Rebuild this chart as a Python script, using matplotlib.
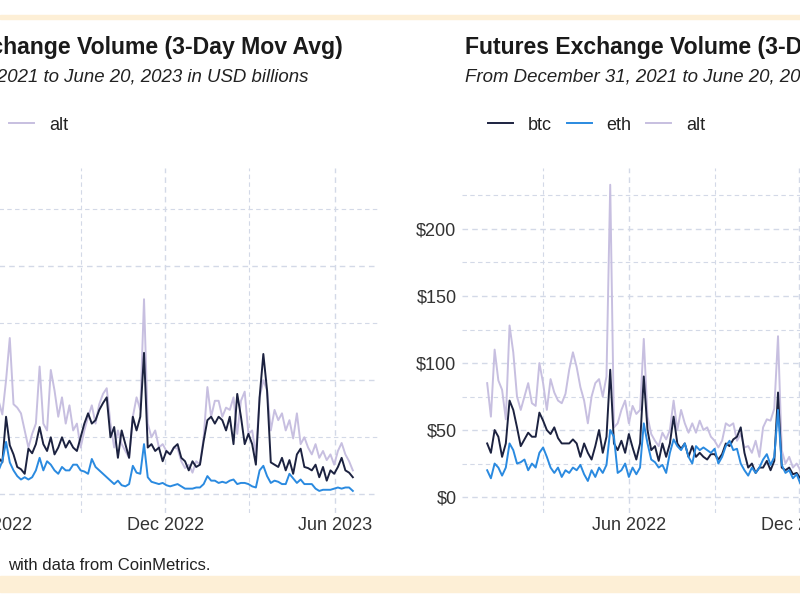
import pandas as pd
import matplotlib
matplotlib.use('Agg')
import matplotlib.pyplot as plt
import matplotlib.dates as mdates
from matplotlib.patches import Rectangle
from matplotlib.ticker import MultipleLocator, FuncFormatter

plt.rcParams['font.family'] = ['Liberation Sans', 'DejaVu Sans']

# spot volume (USD bn), read every 4 days from 2022-06-01 (earlier part is off the crop)
spot_dates = pd.date_range('2022-06-01', periods=97, freq='4D')
spot_btc = [3.5, 3.2, 2.8, 6.8, 4.3, 3.5, 2.4, 2.2, 1.8, 4.0,
            3.6, 4.4, 5.9, 4.4, 3.8, 5.0, 3.5, 4.1, 5.0, 4.1,
            4.7, 4.1, 3.8, 5.0, 6.2, 7.1, 6.2, 6.5, 7.4, 8.0,
            8.5, 5.0, 5.9, 3.2, 5.6, 4.4, 3.2, 6.8, 5.6, 6.8,
            12.4, 4.1, 4.4, 3.8, 4.1, 2.9, 3.8, 3.5, 4.1, 4.4,
            3.2, 2.9, 2.1, 2.9, 2.4, 2.6, 4.7, 6.5, 6.8, 6.2,
            6.8, 6.5, 5.6, 6.8, 4.4, 8.8, 6.8, 4.4, 5.3, 4.4,
            2.6, 8.5, 12.3, 9.1, 2.8, 2.6, 2.4, 3.2, 2.1, 3.0,
            1.8, 3.5, 4.0, 2.4, 2.3, 2.1, 2.6, 1.5, 2.4, 1.2,
            2.1, 1.8, 2.4, 3.2, 2.1, 1.9, 1.5]
spot_eth = [2.0, 2.1, 2.9, 4.6, 2.8, 2.1, 1.6, 1.3, 1.5, 1.3,
            1.5, 2.1, 3.2, 2.1, 2.9, 2.6, 2.1, 1.8, 2.4, 2.1,
            2.1, 2.6, 2.6, 2.1, 2.0, 1.8, 3.1, 2.4, 2.1, 1.8,
            1.5, 1.2, 0.9, 1.2, 0.8, 0.7, 0.9, 2.5, 1.9, 1.8,
            4.4, 1.5, 1.1, 1.0, 0.9, 1.0, 0.8, 0.7, 0.8, 0.9,
            0.7, 0.5, 0.5, 0.5, 0.6, 0.6, 0.9, 1.6, 1.2, 1.2,
            1.0, 1.1, 1.0, 1.2, 1.3, 0.9, 1.0, 1.0, 0.9, 0.7,
            0.6, 2.1, 2.5, 1.6, 1.0, 1.2, 1.1, 0.9, 0.9, 1.8,
            1.4, 1.0, 1.3, 0.9, 0.9, 0.9, 0.5, 0.3, 0.4, 0.4,
            0.4, 0.5, 0.6, 0.5, 0.6, 0.6, 0.3]
spot_alt = [7.5, 8.2, 7.0, 10.0, 13.7, 7.9, 7.6, 7.1, 5.6, 4.1,
            5.3, 6.2, 11.2, 6.2, 5.6, 10.9, 9.1, 6.8, 8.5, 6.2,
            7.8, 5.6, 6.2, 4.1, 5.6, 6.8, 7.8, 6.2, 7.9, 8.8,
            9.3, 6.2, 4.1, 5.6, 4.4, 3.8, 3.2, 6.8, 8.5, 7.4,
            17.1, 6.2, 5.0, 5.6, 4.1, 4.4, 3.8, 3.5, 4.1, 4.0,
            2.9, 2.3, 2.6, 1.9, 2.9, 2.6, 5.0, 9.4, 6.8, 8.2,
            8.2, 6.8, 7.6, 7.4, 8.5, 5.3, 8.2, 9.0, 5.3, 5.6,
            3.5, 8.5, 10.0, 9.1, 5.6, 7.4, 6.5, 7.1, 5.6, 6.5,
            4.9, 7.1, 4.4, 5.0, 4.1, 3.5, 4.4, 3.2, 3.8, 3.0,
            3.5, 2.6, 3.8, 4.5, 3.5, 2.9, 2.1]

# futures volume (USD bn), read every 4 days from 2021-12-31 (later part is off the crop)
fut_dates = pd.date_range('2021-12-31', periods=87, freq='4D')
fut_btc = [40, 33, 50, 45, 30, 40, 72, 65, 52, 38,
           43, 48, 45, 45, 63, 57, 50, 47, 52, 44,
           40, 40, 40, 43, 40, 30, 40, 33, 28, 38,
           50, 33, 45, 95, 40, 35, 42, 33, 47, 37,
           28, 40, 90, 50, 35, 38, 27, 40, 30, 40,
           60, 40, 36, 40, 30, 38, 30, 33, 30, 28,
           32, 32, 28, 32, 40, 38, 43, 45, 52, 33,
           22, 25, 18, 22, 22, 27, 20, 27, 78, 22,
           20, 22, 17, 18, 14, 15, 13]
fut_eth = [20, 14, 25, 22, 16, 22, 40, 35, 25, 26,
           28, 20, 25, 22, 33, 37, 30, 22, 18, 22,
           15, 20, 18, 22, 20, 24, 17, 12, 20, 15,
           22, 18, 24, 50, 45, 18, 20, 25, 15, 22,
           17, 22, 55, 40, 28, 26, 22, 24, 18, 33,
           43, 38, 35, 40, 30, 25, 38, 35, 37, 35,
           33, 36, 25, 30, 38, 42, 35, 36, 25, 20,
           16, 22, 18, 22, 28, 32, 24, 30, 65, 24,
           18, 20, 14, 17, 10, 13, 11]
fut_alt = [85, 60, 110, 87, 80, 58, 128, 108, 75, 65,
           75, 85, 70, 68, 100, 85, 65, 88, 78, 72,
           70, 77, 95, 108, 97, 82, 72, 55, 75, 85,
           88, 75, 90, 233, 52, 55, 65, 72, 55, 68,
           62, 65, 118, 60, 47, 42, 38, 48, 43, 50,
           72, 50, 65, 55, 48, 55, 48, 57, 50, 52,
           45, 42, 37, 42, 55, 53, 55, 42, 47, 37,
           38, 33, 42, 30, 52, 58, 57, 66, 120, 35,
           25, 30, 22, 25, 20, 22, 20]

series_names = ['btc', 'eth', 'alt']
series_colors = {'btc': '#1c2240', 'eth': '#2a8ae0', 'alt': '#c7bfe0'}
grid_color = '#d3d9e7'
x_start, x_end = pd.Timestamp('2021-12-04'), pd.Timestamp('2023-07-17')

fig = plt.figure(figsize=(8, 6), dpi=100)
W, H = 800.0, 600.0


def px(x, y):
    return x / W, 1 - y / H


def setup_panel(ax, ylim, major, minor):
    ax.set_xlim(x_start, x_end)
    ax.set_ylim(*ylim)
    ax.xaxis.set_major_locator(mdates.MonthLocator(bymonth=[6, 12]))
    ax.xaxis.set_minor_locator(mdates.MonthLocator(bymonth=[3, 9]))
    ax.xaxis.set_major_formatter(mdates.DateFormatter('%b %Y'))
    ax.yaxis.set_major_locator(MultipleLocator(major))
    ax.yaxis.set_minor_locator(MultipleLocator(minor))
    ax.yaxis.set_major_formatter(FuncFormatter(lambda v, p: '$%d' % v))
    ax.grid(which='major', color=grid_color, lw=1.0, ls=(0, (4, 3)))
    ax.grid(which='minor', color=grid_color, lw=0.8, ls=(0, (4, 3)))
    for s in ax.spines.values():
        s.set_visible(False)
    ax.tick_params(which='both', length=0, labelsize=13, colors='#333333')
    ax.tick_params(axis='x', pad=3)
    ax.tick_params(axis='y', pad=4)
    ax.set_axisbelow(True)


def draw_lines(ax, dates, data):
    lines = {}
    for name in ['alt', 'btc', 'eth']:
        lines[name], = ax.plot(dates, data[name], color=series_colors[name], lw=1.4,
                               solid_joinstyle='round')
    return [lines[n] for n in series_names]


# panel geometry in pixels of the cropped canvas
panel_w = 550
panel_top, panel_bot = 168, 512.6
left_x0 = -172
right_x0 = 462

ax1 = fig.add_axes([left_x0 / W, 1 - panel_bot / H, panel_w / W, (panel_bot - panel_top) / H])
ax2 = fig.add_axes([right_x0 / W, 1 - panel_bot / H, panel_w / W, (panel_bot - panel_top) / H])

setup_panel(ax1, (-1.6, 28.6), 10, 5)
setup_panel(ax2, (-11.6, 245.5), 50, 25)

h1 = draw_lines(ax1, spot_dates, {'btc': spot_btc, 'eth': spot_eth, 'alt': spot_alt})
h2 = draw_lines(ax2, fut_dates, {'btc': fut_btc, 'eth': fut_eth, 'alt': fut_alt})

# titles and subtitles
fig.text(*px(343, 54), 'Spot Exchange Volume (3-Day Mov Avg)', ha='right', va='baseline',
         fontsize=16.6, fontweight='bold', color='#1a1a1a')
fig.text(*px(308, 82), 'From December 31, 2021 to June 20, 2023 in USD billions', ha='right',
         va='baseline', fontsize=13.4, style='italic', color='#222222')
fig.text(*px(465, 54), 'Futures Exchange Volume (3-Day Mov Avg)', ha='left', va='baseline',
         fontsize=16.6, fontweight='bold', color='#1a1a1a')
fig.text(*px(465, 82), 'From December 31, 2021 to June 20, 2023 in USD billions', ha='left',
         va='baseline', fontsize=13.4, style='italic', color='#222222')

# legends
for ax, handles, lx in [(ax1, h1, 488 - 637), (ax2, h2, 488)]:
    ax.legend(handles, series_names, loc='center left', bbox_to_anchor=px(lx, 125),
              bbox_transform=fig.transFigure, ncol=3, frameon=False, fontsize=13,
              handlelength=1.38, handletextpad=0.8, columnspacing=0.85,
              borderpad=0, borderaxespad=0, labelcolor='#222222')

# caption (its start lies left of the crop)
fig.text(*px(-3, 565), 'Source: CoinDesk Indices', ha='right', va='center',
         fontsize=12, color='#222222')
fig.text(*px(8, 565), 'with data from CoinMetrics.', ha='left', va='center',
         fontsize=12, color='#222222')

# light orange frame bands
fig.patches.append(Rectangle(px(0, 18.5), 1, 3.5 / H, transform=fig.transFigure,
                             color='#fdefd6', zorder=0))
fig.patches.append(Rectangle(px(0, 592), 1, 16 / H, transform=fig.transFigure,
                             color='#fdefd6', zorder=0))

fig.savefig('out.png', dpi=100)
